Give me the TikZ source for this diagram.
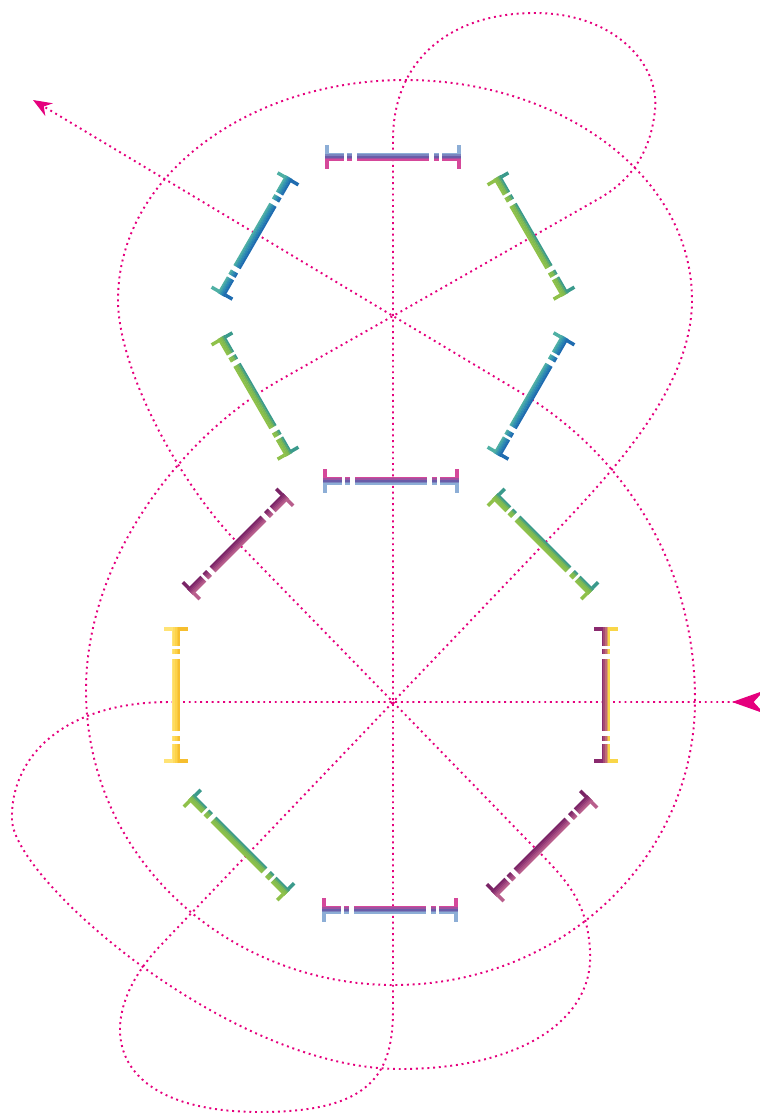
\documentclass[tikz,border=0pt]{standalone}
\usetikzlibrary{arrows.meta}
\definecolor{dotc}{HTML}{E5007D}
\definecolor{lblue}{HTML}{8DAED6}
\definecolor{bpurp}{HTML}{6A5CA8}
\definecolor{bmag}{HTML}{D5489A}
\definecolor{bteal}{HTML}{4FB0A4}
\definecolor{bcyan}{HTML}{2F8FB2}
\definecolor{bblue}{HTML}{1F6CB0}
\definecolor{gteal}{HTML}{3A9A8C}
\definecolor{gmid}{HTML}{7CB852}
\definecolor{ggreen}{HTML}{8FC14A}
\definecolor{pdark}{HTML}{7A2466}
\definecolor{pmid}{HTML}{963C78}
\definecolor{plight}{HTML}{B85E8C}
\definecolor{ylight}{HTML}{FFE375}
\definecolor{ymid}{HTML}{FDD34A}
\definecolor{ydark}{HTML}{F6BE2E}
\definecolor{rpurp}{HTML}{8A2A6E}
\definecolor{rmid}{HTML}{C06A78}
\definecolor{ryel}{HTML}{F9D648}
\tikzset{
  dotpath/.style={draw=dotc,line width=1.45pt,dash pattern=on 1.45pt off 2.85pt},
  barline/.style={line width=1.4pt,dash pattern=on 14.25pt off 2.25pt on 3.75pt off 3.75pt on 54pt off 3.75pt on 3.75pt off 2.25pt on 14.25pt off 20pt},
  capline/.style={line width=2.6pt}
}
% #1 cx, #2 cy, #3 angle, #4 colour A, #5 middle colour, #6 colour B
\newcommand{\bondbar}[6]{%
  \begin{scope}[shift={(#1,#2)},rotate=#3]
    \foreach \s in {-66,66}{
      \draw[capline,draw=#4] (\s,-12) -- (\s,-4);
      \draw[capline,draw=#5] (\s,-4) -- (\s,4);
      \draw[capline,draw=#6] (\s,4) -- (\s,12);
    }
    \foreach \o/\c in {-3.2/#4,-1.6/#4!50!#5,0/#5,1.6/#5!50!#6,3.2/#6}{
      \draw[barline,draw=\c] (-68,\o) -- (68,\o);
    }
  \end{scope}}
\begin{document}
\begin{tikzpicture}[x=0.75pt,y=-0.75pt]
\useasboundingbox (0,0) rectangle (760,1114);
\coordinate (C1) at (393,316);
\coordinate (C2) at (393,702);
\draw[dotpath,{Stealth[reversed,length=24pt,width=17pt]}-{Stealth[length=14pt,width=11pt]}]
 (764,702) -- (C2) -- (170,702)
 .. controls (60,702) and (10,760) .. (12,820)
 .. controls (14,880) and (230,1069) .. (400,1069)
 .. controls (520,1069) and (595,1020) .. (590,950)
 .. controls (587,900) and (565,878) .. (530,843)
 -- (C2) -- (235,540)
 .. controls (180,483) and (118,370) .. (118,300)
 .. controls (118,175) and (250,80) .. (405,80)
 .. controls (560,80) and (692,175) .. (692,300)
 .. controls (692,390) and (610,475) .. (540,548)
 -- (C2) -- (160,946)
 .. controls (90,1020) and (105,1112) .. (260,1112)
 .. controls (370,1112) and (393,1075) .. (393,1010)
 -- (393,140)
 .. controls (393,60) and (450,13) .. (535,13)
 .. controls (615,13) and (660,65) .. (655,110)
 .. controls (652,140) and (640,175) .. (600,198)
 -- (C1) -- (280,380)
 .. controls (180,437) and (86,560) .. (86,690)
 .. controls (86,860) and (230,985) .. (394,985)
 .. controls (560,985) and (695,860) .. (695,700)
 .. controls (695,560) and (620,452) .. (520,392)
 -- (C1) -- (33,100);
% hexagon
\bondbar{393}{157}{0}{lblue}{bpurp}{bmag}
\bondbar{255}{236}{60}{bteal}{bcyan}{bblue}
\bondbar{531}{236}{-60}{gteal}{gmid}{ggreen}
\bondbar{255}{396}{-60}{gteal}{gmid}{ggreen}
\bondbar{531}{396}{60}{bteal}{bcyan}{bblue}
\bondbar{391}{481}{0}{bmag}{bpurp}{lblue}
% octagon
\bondbar{238}{544}{45}{pdark}{pmid}{plight}
\bondbar{543}{544}{-45}{gteal}{gmid}{ggreen}
\bondbar{176}{695}{90}{ylight}{ymid}{ydark}
\bondbar{606}{695}{90}{rpurp}{rmid}{ryel}
\bondbar{239}{845}{-45}{gteal}{gmid}{ggreen}
\bondbar{542}{846}{45}{pdark}{pmid}{plight}
\bondbar{390}{910}{0}{bmag}{bpurp}{lblue}
\end{tikzpicture}
\end{document}
